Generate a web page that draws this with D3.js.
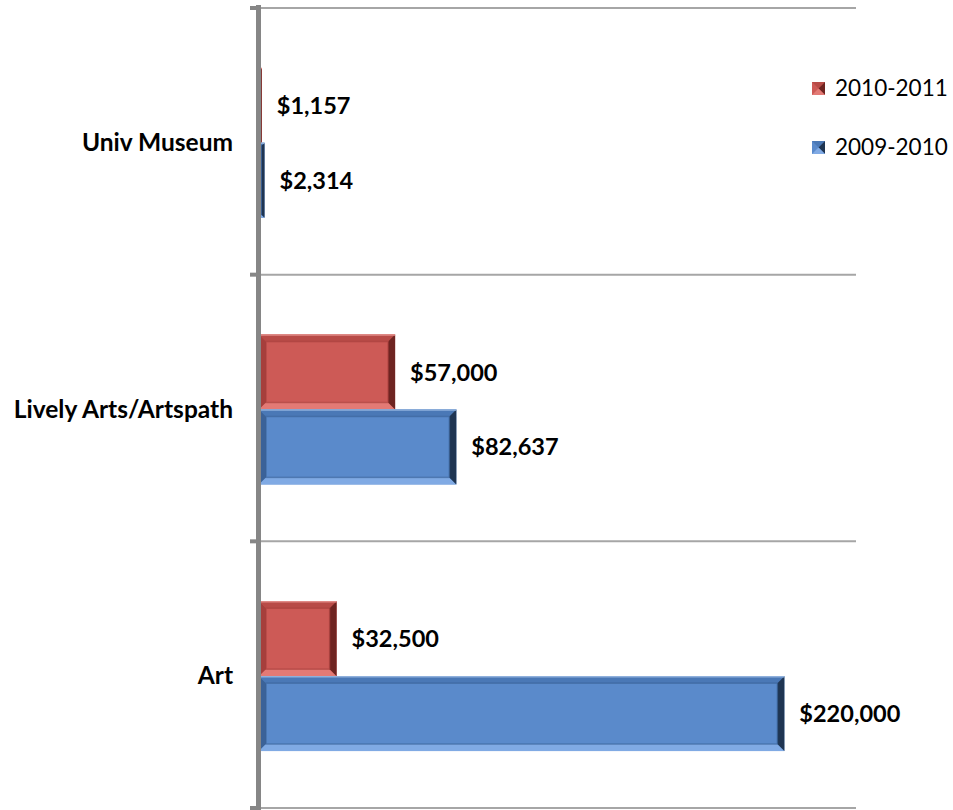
<!DOCTYPE html>
<html><head><meta charset="utf-8">
<script src="https://cdn.jsdelivr.net/npm/d3@7/dist/d3.min.js"></script>
<style>body{margin:0;background:#fff}svg{display:block}</style>
</head><body>
<svg id="chart" width="953" height="810"></svg>
<script>
const categories = ["Univ Museum", "Lively Arts/Artspath", "Art"];
const seriesNames = ["2010-2011", "2009-2010"];
const values2010_2011 = [1157, 57000, 32500];
const values2009_2010 = [2314, 82637, 220000];
const valueLabels2010_2011 = ["$1,157", "$57,000", "$32,500"];
const valueLabels2009_2010 = ["$2,314", "$82,637", "$220,000"];
const xDomain = [0, 250000];

const svg = d3.select("#chart");
const font = "Lato, 'Open Sans', sans-serif";

const x = d3.scaleLinear().domain(xDomain).range([259, 856]);
const y = d3.scaleBand().domain(categories).range([8, 808]).padding(0);
const ySub = d3.scaleBand().domain(seriesNames).range([1.5, y.bandwidth() + 1.5]).paddingInner(0).paddingOuter(0.78);

const pal = {
  "2010-2011": {fill:"#cd5a56", top:"#b84b47", topEdge:"#e08a86", left:"#a63f3c", bottom:"#e37a75", right:"#6e2421"},
  "2009-2010": {fill:"#5a8acb", top:"#4a78b6", topEdge:"#8fb0dc", left:"#3b6298", bottom:"#80aae4", right:"#1f3552"}
};

// gridlines at category boundaries
const bounds = categories.map(c => y(c)).concat([y.range()[1]]);
svg.append("g").selectAll("line").data(bounds).join("line")
  .attr("x1", x(0)).attr("x2", x(xDomain[1]))
  .attr("y1", d => d).attr("y2", d => d)
  .attr("stroke", "#a6a6a6").attr("stroke-width", 2);

// bars
const rows = [];
categories.forEach((c, i) => {
  rows.push({cat:c, s:"2010-2011", v:values2010_2011[i], label:valueLabels2010_2011[i]});
  rows.push({cat:c, s:"2009-2010", v:values2009_2010[i], label:valueLabels2009_2010[i]});
});

const gBars = svg.append("g");
rows.forEach(r => {
  const x0 = x(0), x1 = x(r.v);
  const y0 = y(r.cat) + ySub(r.s), h = ySub.bandwidth();
  const y1 = y0 + h, w = x1 - x0;
  const b = Math.min(7, w / 2, h / 2);
  const p = pal[r.s];
  const g = gBars.append("g");
  g.append("rect").attr("x", x0).attr("y", y0).attr("width", w).attr("height", h).attr("fill", p.fill);
  const poly = (pts, fill) => g.append("polygon").attr("points", pts.map(q => q.join(",")).join(" ")).attr("fill", fill);
  poly([[x0,y0],[x1,y0],[x1-b,y0+b],[x0+b,y0+b]], p.top);
  poly([[x0,y0],[x0+b,y0+b],[x0+b,y1-b],[x0,y1]], p.left);
  poly([[x0,y1],[x0+b,y1-b],[x1-b,y1-b],[x1,y1]], p.bottom);
  poly([[x1,y0],[x1,y1],[x1-b,y1-b],[x1-b,y0+b]], p.right);
  g.append("line").attr("x1", x0).attr("x2", x1).attr("y1", y0+0.5).attr("y2", y0+0.5).attr("stroke", p.topEdge).attr("stroke-width", 1.5);
  if (w > 2*b) g.append("rect").attr("x", x0+b).attr("y", y0+b).attr("width", w-2*b).attr("height", h-2*b)
    .attr("fill", "none").attr("stroke", p.left).attr("stroke-opacity", 0.6).attr("stroke-width", 1.5);
});

// value labels
svg.append("g").selectAll("text").data(rows).join("text")
  .attr("x", d => x(d.v) + 15)
  .attr("y", d => y(d.cat) + ySub(d.s) + ySub.bandwidth()/2)
  .attr("dy", "0.36em")
  .attr("font-family", font).attr("font-weight", "bold").attr("font-size", 23.5)
  .attr("fill", "#000").text(d => d.label);

// axis (vertical category axis)
const gAxis = svg.append("g");
gAxis.append("line").attr("x1", 258.5).attr("x2", 258.5).attr("y1", 5).attr("y2", 810)
  .attr("stroke", "#868686").attr("stroke-width", 5);
gAxis.selectAll("line.tick").data(bounds).join("line").attr("class", "tick")
  .attr("x1", 250).attr("x2", 258).attr("y1", d => d).attr("y2", d => d)
  .attr("stroke", "#868686").attr("stroke-width", 4);

// category labels
svg.append("g").selectAll("text").data(categories).join("text")
  .attr("x", 233).attr("y", d => y(d) + y.bandwidth()/2 + 1)
  .attr("dy", "0.36em").attr("text-anchor", "end")
  .attr("font-family", font).attr("font-weight", "bold").attr("font-size", 24.5)
  .attr("fill", "#000").text(d => d);

// legend
const legY = [88, 147];
const leg = svg.append("g");
seriesNames.forEach((s, i) => {
  const p = pal[s];
  const sx = 812, sy = legY[i] - 6, sz = 13;
  const gl = leg.append("g");
  gl.append("rect").attr("x", sx).attr("y", sy).attr("width", sz).attr("height", sz).attr("fill", p.fill);
  gl.append("polygon").attr("points", `${sx},${sy} ${sx+sz},${sy} ${sx+sz/2},${sy+sz/2}`).attr("fill", p.top);
  gl.append("polygon").attr("points", `${sx+sz},${sy} ${sx+sz},${sy+sz} ${sx+sz/2},${sy+sz/2}`).attr("fill", p.right);
  gl.append("polygon").attr("points", `${sx},${sy+sz} ${sx+sz},${sy+sz} ${sx+sz/2},${sy+sz/2}`).attr("fill", p.bottom);
  gl.append("text").attr("x", 835).attr("y", legY[i]).attr("dy", "0.36em")
    .attr("font-family", font).attr("font-size", 22.5).attr("fill", "#000").text(s);
});
</script>
</body></html>
